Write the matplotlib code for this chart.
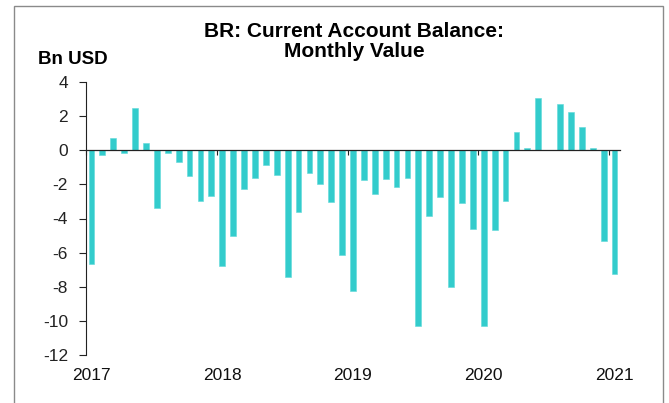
"""BR current account balance, monthly bars (Bn USD)."""

import matplotlib
matplotlib.use("Agg")
import matplotlib.pyplot as plt
from matplotlib.patches import Rectangle
from matplotlib.transforms import blended_transform_factory

plt.rcParams["font.family"] = ["Liberation Sans", "DejaVu Sans"]

# Jan 2017 .. Jan 2021, one value per month
months = [f"{y}-{m:02d}" for y in range(2017, 2021) for m in range(1, 13)] + ["2021-01"]
balance = [
    -6.69, -0.27, 0.70, -0.18, 2.46, 0.43, -3.41, -0.18, -0.70, -1.50, -2.97, -2.69,
    -6.77, -5.01, -2.26, -1.62, -0.86, -1.44, -7.43, -3.63, -1.33, -1.99, -3.06, -6.11,
    -8.23, -1.74, -2.58, -1.68, -2.17, -1.62, -10.28, -3.84, -2.73, -8.04, -3.10, -4.64,
    -10.28, -4.66, -2.95, 1.07, 0.16, 3.04, 0.0, 2.73, 2.26, 1.35, 0.12, -5.29,
    -7.24,
]
year_labels = ["2017", "2018", "2019", "2020", "2021"]
y_ticks = [4, 2, 0, -2, -4, -6, -8, -10, -12]

BAR_COLOR = "#33CCCC"
W, H = 669, 403

fig = plt.figure(figsize=(W / 100, H / 100), dpi=100)
ax = fig.add_axes([86 / W, 1 - 355 / H, (620 - 86) / W, (355 - 82) / H])

x = [i + 0.5 for i in range(len(months))]
ax.bar(x, balance, width=0.53, color=BAR_COLOR, edgecolor="#5fd9d9", linewidth=0.4, zorder=2)

ax.set_xlim(0, len(months))
ax.set_ylim(-12, 4)
ax.set_yticks(y_ticks)
ax.set_yticklabels([str(t) for t in y_ticks])
ax.tick_params(axis="y", direction="out", length=5, width=0.8, pad=8,
               labelsize=12.5, colors="#222222")

# category axis crosses at zero, ticks at year boundaries
ax.spines["bottom"].set_position(("data", 0))
ax.spines["bottom"].set_color("#222222")
ax.spines["bottom"].set_linewidth(0.9)
ax.spines["bottom"].set_zorder(3)
ax.spines["left"].set_color("#222222")
ax.spines["left"].set_linewidth(0.8)
ax.spines["top"].set_visible(False)
ax.spines["right"].set_visible(False)
year_pos = [12 * k for k in range(len(year_labels))]
ax.set_xticks(year_pos)
ax.set_xticklabels([])
ax.tick_params(axis="x", direction="out", length=3.5, width=0.8, colors="#222222")

trans = blended_transform_factory(ax.transData, fig.transFigure)
for pos, lab in zip(year_pos, year_labels):
    ax.text(pos + 0.5, 1 - 380 / H, lab, transform=trans, ha="center", va="baseline",
            fontsize=12.5, color="#111111")

fig.text(354 / W, 1 - 37 / H, "BR: Current Account Balance:", ha="center",
         va="baseline", fontsize=15, fontweight="bold")
fig.text(354 / W, 1 - 57 / H, "Monthly Value", ha="center", va="baseline",
         fontsize=15, fontweight="bold")
fig.text(38 / W, 1 - 64 / H, "Bn USD", ha="left", va="baseline",
         fontsize=13.5, fontweight="bold")

# chart frame
fig.patches.append(Rectangle((14 / W, -0.05), (663 - 14) / W, 1 - 6 / H + 0.05,
                             transform=fig.transFigure, fill=False,
                             edgecolor="#8a8a8a", linewidth=1.0))

fig.savefig("out.png", dpi=100)
